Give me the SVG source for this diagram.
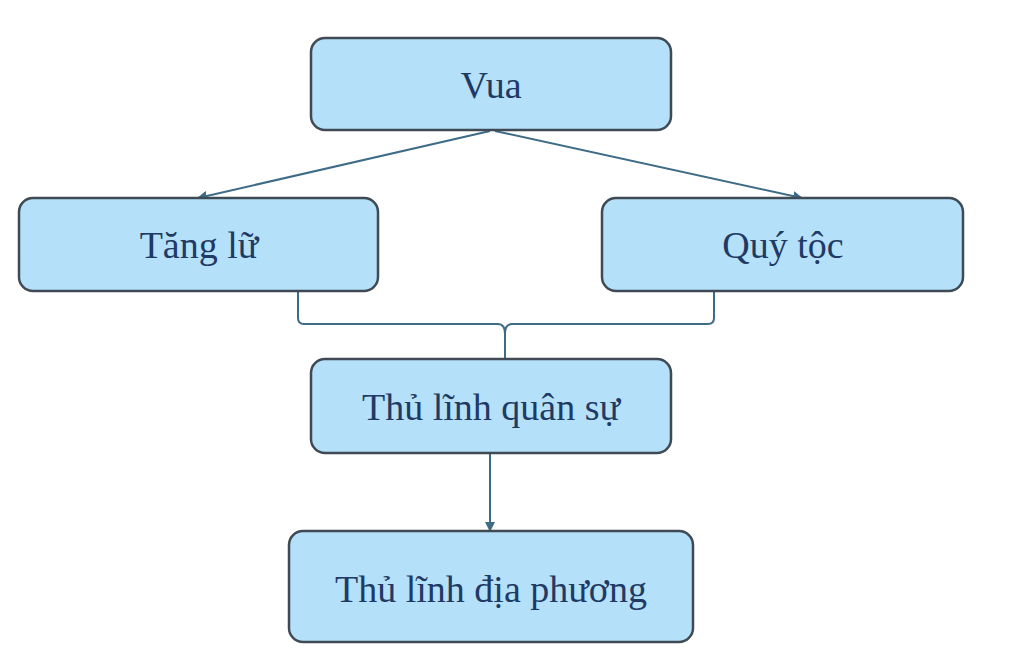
<svg xmlns="http://www.w3.org/2000/svg" width="1024" height="654" viewBox="0 0 1024 654">
<defs>
<style>
.box{fill:#b5e0fa;stroke:#3f4a55;stroke-width:2.5}
.t{font-family:"Liberation Serif",serif;font-size:38px;fill:#1f3a64;text-anchor:middle}
.c{fill:none;stroke:#3e6b86;stroke-width:2}
</style>
<marker id="a" viewBox="0 0 10 10" refX="9" refY="5" markerWidth="5" markerHeight="5" orient="auto"><path d="M0,0L10,5L0,10z" fill="#3e6b86"/></marker>
</defs>
<rect width="1024" height="654" fill="#fff"/>
<g id="connectors">
<path class="c" d="M490,131L198,198" marker-end="url(#a)"/>
<path class="c" d="M495,131L802,198" marker-end="url(#a)"/>
<path class="c" d="M298,292V318Q298,324 304,324H498Q505,324 505,334V360M505,334Q505,324 512,324H708Q714,324 714,318V292"/>
<path class="c" d="M490,454V531" marker-end="url(#a)"/>
</g>
<g id="vua"><rect class="box" x="311" y="38" width="360" height="92" rx="14"/><text class="t" x="491" y="98">Vua</text></g>
<g id="tangLu"><rect class="box" x="19" y="198" width="359" height="93" rx="14"/><text class="t" x="199" y="258">Tăng lữ</text></g>
<g id="quyToc"><rect class="box" x="602" y="198" width="361" height="93" rx="14"/><text class="t" x="783" y="258">Quý tộc</text></g>
<g id="thuLinhQuanSu"><rect class="box" x="311" y="359" width="360" height="94" rx="14"/><text class="t" x="491" y="420">Thủ lĩnh quân sự</text></g>
<g id="thuLinhDiaPhuong"><rect class="box" x="289" y="531" width="404" height="111" rx="14"/><text class="t" x="491" y="602">Thủ lĩnh địa phương</text></g>
</svg>
